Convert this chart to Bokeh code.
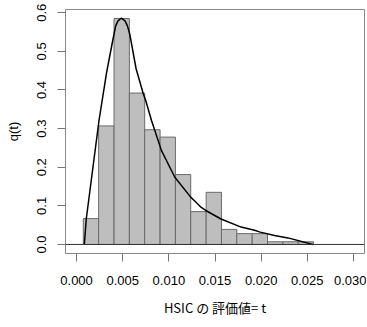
from bokeh.plotting import figure
from bokeh.models import Range1d, FixedTicker, NumeralTickFormatter, Span
from bokeh.embed import file_html
from bokeh.resources import INLINE

# histogram bin edges and heights
bin_edges = [0.00073, 0.00239, 0.00406, 0.00572, 0.00738, 0.00905, 0.01071, 0.01237,
             0.01404, 0.01570, 0.01736, 0.01903, 0.02069, 0.02235, 0.02402, 0.02568]
bin_heights = [0.067, 0.307, 0.585, 0.392, 0.297, 0.278, 0.181, 0.085,
               0.135, 0.039, 0.028, 0.028, 0.007, 0.007, 0.007]

# density curve q(t)
curve_t = [0.00084, 0.00105, 0.00243, 0.00326, 0.00395, 0.00424, 0.00449, 0.00486,
           0.00525, 0.00551, 0.00576, 0.00645, 0.00722, 0.00750, 0.00812, 0.00848,
           0.00920, 0.01065, 0.01239, 0.01275, 0.01348, 0.01400, 0.01565, 0.01783,
           0.01928, 0.01990, 0.02145, 0.02290, 0.02562]
curve_q = [0.000, 0.066, 0.321, 0.446, 0.532, 0.566, 0.579, 0.586,
           0.579, 0.566, 0.545, 0.455, 0.391, 0.372, 0.321, 0.295,
           0.243, 0.174, 0.122, 0.114, 0.0965, 0.088, 0.066, 0.045,
           0.037, 0.032, 0.023, 0.017, 0.000]

x_ticks = [0.0, 0.005, 0.010, 0.015, 0.020, 0.025, 0.030]
y_ticks = [0.0, 0.1, 0.2, 0.3, 0.4, 0.5, 0.6]
x_label = "HSIC の 評価値= t"
y_label = "q(t)"

p = figure(width=366, height=326, output_backend="svg", toolbar_location=None,
           x_range=Range1d(-0.0012, 0.0312), y_range=Range1d(-0.0234, 0.6084),
           min_border_left=65, min_border_right=2, min_border_top=9, min_border_bottom=73)

p.quad(left=bin_edges[:-1], right=bin_edges[1:], bottom=0, top=bin_heights,
       fill_color="#bebebe", line_color="#6a6a6a", line_width=1)
p.add_layout(Span(location=0, dimension="width", line_color="#333333", line_width=1))
p.line(curve_t, curve_q, line_color="black", line_width=1.5, line_join="round")

p.xgrid.visible = False
p.ygrid.visible = False
p.outline_line_color = "#888888"
p.outline_line_width = 1
p.background_fill_color = "white"
p.border_fill_color = "white"

for ax in (p.xaxis[0], p.yaxis[0]):
    ax.axis_line_color = None
    ax.major_tick_line_color = "#777777"
    ax.major_tick_in = 0
    ax.major_tick_out = 8
    ax.minor_tick_line_color = None
    ax.major_label_text_font = "Liberation Sans"
    ax.major_label_text_font_size = "13px"
    ax.major_label_text_color = "black"
    ax.axis_label_text_font_size = "13px"
    ax.axis_label_text_font_style = "normal"
    ax.axis_label_text_color = "black"

p.xaxis[0].ticker = FixedTicker(ticks=x_ticks)
p.xaxis[0].formatter = NumeralTickFormatter(format="0.000")
p.xaxis[0].axis_label = x_label
p.xaxis[0].axis_label_text_font = "Noto Sans CJK JP"
p.xaxis[0].major_label_standoff = 14
p.xaxis[0].axis_label_standoff = 10

p.yaxis[0].ticker = FixedTicker(ticks=y_ticks)
p.yaxis[0].formatter = NumeralTickFormatter(format="0.0")
p.yaxis[0].axis_label = y_label
p.yaxis[0].axis_label_text_font = "Liberation Sans"
p.yaxis[0].major_label_orientation = "vertical"
p.yaxis[0].major_label_standoff = 11
p.yaxis[0].axis_label_standoff = 14

open("out.html", "w").write(file_html(p, INLINE))
